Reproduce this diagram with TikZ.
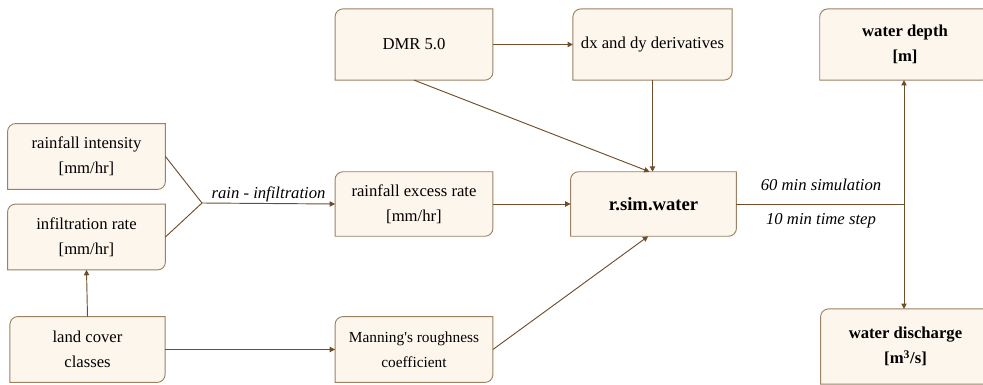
\documentclass[tikz,border=0pt]{standalone}
\usepackage{fontspec}
\setmainfont{Liberation Serif}
\usetikzlibrary{arrows.meta, backgrounds}
\definecolor{boxfill}{HTML}{FDF6EC}
\definecolor{boxline}{HTML}{9C8162}
\definecolor{linkcol}{HTML}{6E4E2A}
\tikzstyle{box} = [minimum width=118pt, minimum height=49pt, align=center, inner sep=2pt, font=\fontsize{12.5}{18.5}\selectfont]
\tikzstyle{outbox} = [box, font=\fontsize{12.5}{19}\selectfont\bfseries]
\tikzstyle{note} = [font=\fontsize{12.5}{15}\selectfont\itshape, inner sep=1pt]
\tikzstyle{arrow} = [draw=linkcol, line width=0.7pt, -{Triangle[length=4pt,width=4pt]}]
\tikzstyle{link} = [draw=linkcol, line width=0.7pt]
\tikzstyle{boxshape} = [draw=boxline, fill=boxfill, line width=0.7pt]

\begin{document}
\begin{tikzpicture}[x=0.75pt, y=-0.75pt]
        \useasboundingbox (0,0) rectangle (983,385);
        % inputs
        \node (rain) [box] at (86.5,156.5) {rainfall intensity\\{}[mm/hr]};
        \node (infil) [box] at (86.5,237) {infiltration rate\\{}[mm/hr]};
        \node (land) [box, minimum width=116pt] at (87.5,349.5) {land cover\\classes};
        \node (dmr) [box, minimum height=53pt] at (414,44.5) {DMR 5.0};
        \node (deriv) [box, minimum width=119pt, minimum height=53pt] at (652.5,44.5) {dx and dy derivatives};
        \node (excess) [box, minimum height=48pt] at (414,204) {rainfall excess rate\\{}[mm/hr]};
        \node (manning) [box, font=\fontsize{11.5}{18.5}\selectfont] at (414,349.5) {Manning\textquotesingle s roughness\\coefficient};
        % model
        \node (rsim) [outbox, minimum width=124pt, minimum height=48pt, font=\fontsize{14}{16}\selectfont\bfseries] at (653.5,204) {r.sim.water};
        % outputs
        \node (depth) [outbox, minimum width=127.5pt, minimum height=53pt] at (905,44.5) {water depth\\{}[m]};
        \node (discharge) [outbox, minimum width=127pt, minimum height=56pt] at (905.5,346.5) {water discharge\\{}[m\textsuperscript{3}/s]};
        \coordinate (merge) at (202,203);
        \coordinate (split) at (904,204);

        % box outlines, rounded top left and bottom right
        \begin{pgfonlayer}{background}
        \foreach \n in {rain,infil,land,dmr,deriv,excess,manning,rsim,depth,discharge}
          \draw [boxshape] (\n.north east) -- ([xshift=6pt]\n.north west)
            arc[start angle=90, end angle=180, radius=6pt] -- (\n.south west)
            -- ([xshift=-6pt]\n.south east) arc[start angle=270, end angle=360, radius=6pt] -- cycle;
        \end{pgfonlayer}

        \draw [link] (rain.east) -- (merge);
        \draw [link] (infil.east) -- (merge);
        \draw [arrow] (merge) -- node[note, above] {rain - infiltration} (excess.west);
        \draw [arrow] (land.north) -- (infil.south);
        \draw [arrow] (land.east) -- (manning.west);
        \draw [arrow] (dmr.east) -- (deriv.west);
        \draw [arrow] (dmr.south) -- ([xshift=-3pt]rsim.north);
        \draw [arrow] (deriv.south) -- (deriv.south |- rsim.north);
        \draw [arrow] (excess.east) -- (rsim.west);
        \draw [arrow] (manning.east) -- ([xshift=-4pt]rsim.south);
        \draw [link] (rsim.east) -- (split);
        \draw [arrow] (split) -- (split |- depth.south);
        \draw [arrow] (split) -- (split |- discharge.north);
        \node (simtime) [note] at (821,185) {60 min simulation};
        \node (timestep) [note] at (821,221) {10 min time step};
      \end{tikzpicture}
\end{document}
